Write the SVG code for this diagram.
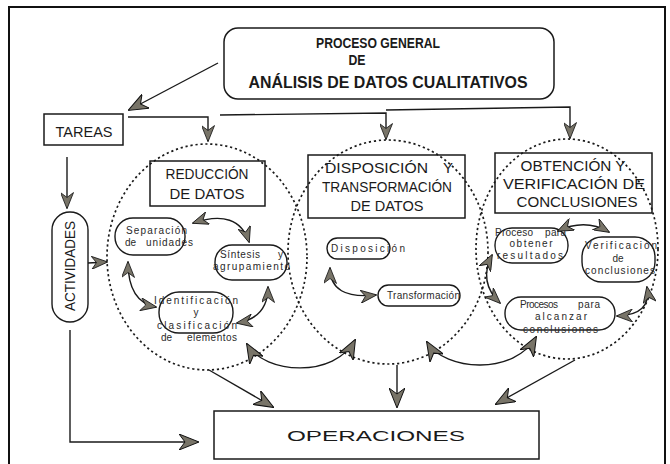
<svg xmlns="http://www.w3.org/2000/svg" width="670" height="464" viewBox="0 0 670 464">
<style>
.box{fill:none;stroke:#1a1a1a;stroke-width:1.5}
.pill{fill:none;stroke:#1a1a1a;stroke-width:1.4}
.circ{fill:none;stroke:#1a1a1a;stroke-width:1.7;stroke-dasharray:2.2 2.8}
.ln{fill:none;stroke:#1a1a1a;stroke-width:1.4}
.hd{font-family:"Liberation Sans",Arial,sans-serif;font-size:15px;fill:#1a1a1a}
.tt{font-family:"Liberation Sans",Arial,sans-serif;font-weight:bold;fill:#1a1a1a}
.sm{font-family:"Liberation Sans",Arial,sans-serif;font-size:10px;fill:#2a2a2a}
</style>
<defs>
<marker id="big" viewBox="0 0 20 16" refX="19" refY="8" markerWidth="20" markerHeight="16" markerUnits="userSpaceOnUse" orient="auto-start-reverse">
<path d="M0,0 L20,8 L0,16 L6,8 Z" fill="#787468" stroke="#111" stroke-width="1"/>
</marker>
<marker id="mid" viewBox="0 0 20 16" refX="19" refY="8" markerWidth="17" markerHeight="13" markerUnits="userSpaceOnUse" orient="auto-start-reverse">
<path d="M0,0 L20,8 L0,16 L6,8 Z" fill="#787468" stroke="#111" stroke-width="1"/>
</marker>
</defs>
<rect x="0" y="0" width="670" height="464" fill="#fff"/>
<rect id="frame" x="9" y="7" width="656" height="470" fill="none" stroke="#111" stroke-width="2"/>

<g id="circles">
<ellipse class="circ" cx="207" cy="257" rx="100" ry="113"/>
<ellipse class="circ" cx="388" cy="252" rx="100" ry="112"/>
<ellipse class="circ" cx="567" cy="249" rx="91" ry="110"/>
</g>

<g id="titulo">
<rect class="box" x="224" y="28" width="330" height="71" rx="14"/>
<text class="tt" x="378" y="48" font-size="14" text-anchor="middle" textLength="124" lengthAdjust="spacingAndGlyphs">PROCESO GENERAL</text>
<text class="tt" x="357" y="65" font-size="14" text-anchor="middle" textLength="17" lengthAdjust="spacingAndGlyphs">DE</text>
<text class="tt" x="388" y="88" font-size="17" text-anchor="middle" textLength="279" lengthAdjust="spacingAndGlyphs">ANÁLISIS DE DATOS CUALITATIVOS</text>
</g>

<g id="tareas">
<rect class="box" x="44" y="114" width="79" height="31"/>
<text class="hd" x="84" y="137" font-size="16" text-anchor="middle" textLength="57" lengthAdjust="spacingAndGlyphs">TAREAS</text>
</g>

<g id="actividades">
<rect class="pill" x="52" y="212" width="36" height="110" rx="18"/>
<text class="hd" transform="translate(75,266) rotate(-90)" text-anchor="middle" font-size="16" textLength="90" lengthAdjust="spacingAndGlyphs">ACTIVIDADES</text>
</g>

<g id="operaciones">
<rect class="box" x="214" y="411" width="325" height="48"/>
<text class="hd" x="376" y="441" font-size="22" text-anchor="middle" textLength="178" lengthAdjust="spacingAndGlyphs">OPERACIONES</text>
</g>

<g id="reduccion">
<rect class="box" x="150" y="161" width="115" height="45"/>
<text class="hd" x="207" y="179" text-anchor="middle" textLength="83" lengthAdjust="spacingAndGlyphs">REDUCCIÓN</text>
<text class="hd" x="207" y="199" text-anchor="middle" textLength="75" lengthAdjust="spacingAndGlyphs">DE DATOS</text>
</g>

<g id="separacion">
<rect class="pill" x="115" y="218" width="70" height="37" rx="18"/>
<text class="sm" x="126" y="234" textLength="61" lengthAdjust="spacing">Separación</text>
<text class="sm"><tspan x="125" y="246">de</tspan><tspan x="146" y="246" textLength="47" lengthAdjust="spacing">unidades</tspan></text>
</g>

<g id="sintesis">
<rect class="pill" x="215" y="245" width="72" height="35" rx="17"/>
<text class="sm"><tspan x="220" y="258" textLength="40" lengthAdjust="spacing">Síntesis</tspan><tspan x="278" y="258">y</tspan></text>
<text class="sm" x="213" y="270" textLength="77" lengthAdjust="spacing">agrupamiento</text>
</g>

<g id="identificacion">
<rect class="pill" x="159" y="292" width="74" height="41" rx="20"/>
<text class="sm" x="154" y="304" textLength="84" lengthAdjust="spacing">Identificación</text>
<text class="sm" x="196" y="316" text-anchor="middle">y</text>
<text class="sm" x="157" y="329" textLength="80" lengthAdjust="spacing">clasificación</text>
<text class="sm"><tspan x="161" y="341">de</tspan><tspan x="187" y="341" textLength="50" lengthAdjust="spacing">elementos</tspan></text>
</g>

<g id="disposicion-transformacion">
<rect class="box" x="308" y="155" width="157" height="63"/>
<text class="hd"><tspan x="325" y="173" textLength="103" lengthAdjust="spacingAndGlyphs">DISPOSICIÓN</tspan><tspan x="443" y="173">Y</tspan></text>
<text class="hd" x="387" y="192" text-anchor="middle" textLength="130" lengthAdjust="spacingAndGlyphs">TRANSFORMACIÓN</text>
<text class="hd" x="387" y="211" text-anchor="middle" textLength="73" lengthAdjust="spacingAndGlyphs">DE DATOS</text>
</g>

<g id="disposicion">
<rect class="pill" x="327" y="238" width="63" height="21" rx="10.5"/>
<text class="sm" x="331" y="252" textLength="74" lengthAdjust="spacing">Disposición</text>
</g>

<g id="transformacion">
<rect class="pill" x="378" y="285" width="82" height="21" rx="10.5"/>
<text class="sm" x="387" y="299" textLength="73" lengthAdjust="spacing">Transformación</text>
</g>

<g id="obtencion-verificacion">
<rect class="box" x="495" y="153" width="157" height="60"/>
<text class="hd" x="573" y="171" text-anchor="middle" textLength="105" lengthAdjust="spacingAndGlyphs">OBTENCIÓN Y</text>
<text class="hd" x="574" y="189" text-anchor="middle" textLength="142" lengthAdjust="spacingAndGlyphs">VERIFICACIÓN DE</text>
<text class="hd" x="577" y="207" text-anchor="middle" textLength="121" lengthAdjust="spacingAndGlyphs">CONCLUSIONES</text>
</g>

<g id="obtener-resultados">
<rect class="pill" x="495" y="228" width="73" height="35" rx="17"/>
<text class="sm"><tspan x="495" y="236" textLength="38" lengthAdjust="spacing">Proceso</tspan><tspan x="545" y="236" textLength="21" lengthAdjust="spacing">para</tspan></text>
<text class="sm" x="531" y="247" text-anchor="middle" textLength="43" lengthAdjust="spacing">obtener</text>
<text class="sm" x="497" y="259" textLength="66" lengthAdjust="spacing">resultados</text>
</g>

<g id="verificacion">
<rect class="pill" x="582" y="237" width="73" height="45" rx="20"/>
<text class="sm" x="585" y="249" textLength="72" lengthAdjust="spacing">Verificación</text>
<text class="sm" x="618" y="262" text-anchor="middle">de</text>
<text class="sm" x="585" y="274" textLength="70" lengthAdjust="spacing">conclusiones</text>
</g>

<g id="alcanzar">
<rect class="pill" x="505" y="297" width="110" height="33" rx="16"/>
<text class="sm"><tspan x="520" y="308" textLength="38" lengthAdjust="spacing">Procesos</tspan><tspan x="578" y="308" textLength="22" lengthAdjust="spacing">para</tspan></text>
<text class="sm" x="561" y="320" text-anchor="middle" textLength="52" lengthAdjust="spacing">alcanzar</text>
<text class="sm" x="523" y="333" textLength="75" lengthAdjust="spacing">conclusiones</text>
</g>

<g id="connectors">
<path class="ln" d="M218 63 L129 110" marker-end="url(#big)"/>
<path class="ln" d="M128 117 L208 117 L208 141" marker-end="url(#mid)"/>
<path class="ln" d="M220 115 L386 113 L386 139" marker-end="url(#mid)"/>
<path class="ln" d="M386 110 L570 107 L570 138" marker-end="url(#mid)"/>
<path class="ln" d="M67 157 L67 208" marker-end="url(#mid)"/>
<path class="ln" d="M88 263 L107 262" marker-end="url(#mid)"/>
<path class="ln" d="M70 330 L70 442 L198 442" marker-end="url(#big)"/>
<path class="ln" d="M209 370 L273 407" marker-end="url(#big)"/>
<path class="ln" d="M397 365 L397 407" marker-end="url(#big)"/>
<path class="ln" d="M575 360 L496 404" marker-end="url(#big)"/>
<path class="ln" d="M247 344 C265 375 335 378 355 340" marker-start="url(#big)" marker-end="url(#big)"/>
<path class="ln" d="M427 342 C445 372 515 375 536 337" marker-start="url(#big)" marker-end="url(#big)"/>
<path class="ln" d="M193 223 Q238 208 249 242" marker-start="url(#mid)" marker-end="url(#mid)"/>
<path class="ln" d="M128 262 Q128 302 156 307" marker-start="url(#mid)" marker-end="url(#mid)"/>
<path class="ln" d="M237 323 Q268 318 268 287" marker-start="url(#mid)" marker-end="url(#mid)"/>
<path class="ln" d="M330 268 Q330 300 376 295" marker-start="url(#mid)" marker-end="url(#mid)"/>
<path class="ln" d="M558 231 Q585 218 609 232" marker-start="url(#mid)" marker-end="url(#mid)"/>
<path class="ln" d="M647 287 Q652 315 617 316" marker-start="url(#mid)" marker-end="url(#mid)"/>
<path class="ln" d="M492 255 Q478 282 500 303" marker-start="url(#mid)" marker-end="url(#mid)"/>
</g>
</svg>
